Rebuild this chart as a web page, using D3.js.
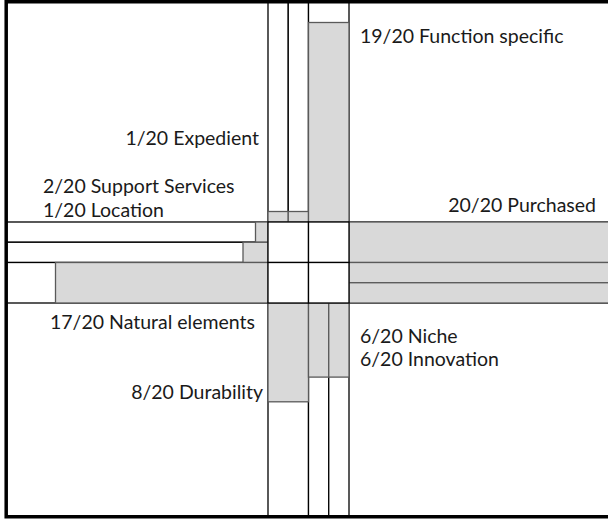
<!DOCTYPE html>
<html>
<head>
<meta charset="utf-8">
<script src="https://cdn.jsdelivr.net/npm/d3@7"></script>
<style>
  html, body { margin: 0; padding: 0; background: #fff; }
  svg { display: block; }
  text { font-family: Lato, "Open Sans", sans-serif; fill: #1a1a1a; }
</style>
</head>
<body>
<svg id="chart" width="608" height="519"></svg>
<script>
// ---- data ----
const maxValue = 20;
const topNames = ["Expedient", "", "Function specific"];
const topValues = [1, 1, 19];
const topSpans = [1, 1, 2];
const leftNames = ["Location", "Support Services", "Natural elements"];
const leftValues = [1, 2, 17];
const leftSpans = [1, 1, 2];
const rightNames = ["Purchased", "", ""];
const rightValues = [20, 20, 20];
const rightSpans = [2, 1, 1];
const bottomNames = ["Durability", "Niche", "Innovation"];
const bottomValues = [8, 6, 6];
const bottomSpans = [2, 1, 1];

// ---- layout ----
const W = 608, H = 519;
const frame = { left: 6.2, top: 1.7, bottom: 516.8 };
const svg = d3.select("#chart");

// grid index scales for the central cross
const gx = d3.scaleLinear().domain([0, 4]).range([268, 349]);
const gy = d3.scaleLinear().domain([0, 4]).range([222, 303]);

// value scales per arm
const topScale = d3.scaleLinear().domain([0, maxValue]).range([gy(0), 12]);
const leftScale = d3.scaleLinear().domain([0, maxValue]).range([gx(0), 18]);
const rightScale = d3.scaleLinear().domain([0, maxValue]).range([gx(4), W + 10]);
const bottomScale = d3.scaleLinear().domain([0, maxValue]).range([gy(4), 550]);

function slots(spans) {
  let s = 0;
  return spans.map(n => { const a = s; s += n; return [a, s]; });
}

const GRAY = "#d9d9d9", EDGE = "#5a5a5a", BLACK = "#000";
const SW = 1.3;

const armG = svg.append("g");

// top arm
slots(topSpans).forEach((sl, i) => {
  armG.append("rect").attr("x", gx(sl[0])).attr("y", frame.top)
    .attr("width", gx(sl[1]) - gx(sl[0])).attr("height", gy(0) - frame.top)
    .attr("fill", "#fff").attr("stroke", BLACK).attr("stroke-width", SW);
});
slots(topSpans).forEach((sl, i) => {
  armG.append("rect").attr("x", gx(sl[0])).attr("y", topScale(topValues[i]))
    .attr("width", gx(sl[1]) - gx(sl[0])).attr("height", gy(0) - topScale(topValues[i]))
    .attr("fill", GRAY).attr("stroke", EDGE).attr("stroke-width", SW);
});

// left arm
slots(leftSpans).forEach((sl, i) => {
  armG.append("rect").attr("x", frame.left).attr("y", gy(sl[0]))
    .attr("width", gx(0) - frame.left).attr("height", gy(sl[1]) - gy(sl[0]))
    .attr("fill", "#fff").attr("stroke", BLACK).attr("stroke-width", SW);
});
slots(leftSpans).forEach((sl, i) => {
  armG.append("rect").attr("x", leftScale(leftValues[i])).attr("y", gy(sl[0]))
    .attr("width", gx(0) - leftScale(leftValues[i])).attr("height", gy(sl[1]) - gy(sl[0]))
    .attr("fill", GRAY).attr("stroke", EDGE).attr("stroke-width", SW);
});

// right arm
slots(rightSpans).forEach((sl, i) => {
  armG.append("rect").attr("x", gx(4)).attr("y", gy(sl[0]))
    .attr("width", W + 10 - gx(4)).attr("height", gy(sl[1]) - gy(sl[0]))
    .attr("fill", "#fff").attr("stroke", BLACK).attr("stroke-width", SW);
});
slots(rightSpans).forEach((sl, i) => {
  armG.append("rect").attr("x", gx(4)).attr("y", gy(sl[0]))
    .attr("width", rightScale(rightValues[i]) - gx(4)).attr("height", gy(sl[1]) - gy(sl[0]))
    .attr("fill", GRAY).attr("stroke", EDGE).attr("stroke-width", SW);
});

// bottom arm
slots(bottomSpans).forEach((sl, i) => {
  armG.append("rect").attr("x", gx(sl[0])).attr("y", gy(4))
    .attr("width", gx(sl[1]) - gx(sl[0])).attr("height", frame.bottom - gy(4))
    .attr("fill", "#fff").attr("stroke", BLACK).attr("stroke-width", SW);
});
slots(bottomSpans).forEach((sl, i) => {
  armG.append("rect").attr("x", gx(sl[0])).attr("y", gy(4))
    .attr("width", gx(sl[1]) - gx(sl[0])).attr("height", bottomScale(bottomValues[i]) - gy(4))
    .attr("fill", GRAY).attr("stroke", EDGE).attr("stroke-width", SW);
});

// center 2x2 cells
[[0, 2], [2, 4]].forEach(cx => [[0, 2], [2, 4]].forEach(cy => {
  svg.append("rect").attr("x", gx(cx[0])).attr("y", gy(cy[0]))
    .attr("width", gx(cx[1]) - gx(cx[0])).attr("height", gy(cy[1]) - gy(cy[0]))
    .attr("fill", "#fff").attr("stroke", BLACK).attr("stroke-width", SW);
}));

// outer frame (left, top, bottom; open on the right)
svg.append("path")
  .attr("d", `M${W + 5},${frame.top} H${frame.left} V${frame.bottom} H${W + 5}`)
  .attr("fill", "none").attr("stroke", BLACK).attr("stroke-width", 3.5);

// ---- labels ----
const fs = 19.5;
function lab(text, x, y, anchor) {
  svg.append("text").attr("x", x).attr("y", y).attr("text-anchor", anchor || "start")
    .attr("font-size", fs).text(text);
}
const L = (v, n) => `${v}/${maxValue} ${n}`;
lab(L(topValues[2], topNames[2]), gx(4) + 11, topScale(topValues[2]) + 20);
lab(L(topValues[0], topNames[0]), gx(0) - 9, 145, "end");
lab(L(leftValues[1], leftNames[1]), 43, 193);
lab(L(leftValues[0], leftNames[0]), 43, gy(0) - 5);
lab(L(rightValues[0], rightNames[0]), 596, gy(0) - 10, "end");
lab(L(leftValues[2], leftNames[2]), 50, gy(4) + 26);
lab(L(bottomValues[0], bottomNames[0]), gx(0) - 5, bottomScale(bottomValues[0]) - 3, "end");
lab(L(bottomValues[1], bottomNames[1]), gx(4) + 11, 343);
lab(L(bottomValues[2], bottomNames[2]), gx(4) + 11, 366);
</script>
</body>
</html>
